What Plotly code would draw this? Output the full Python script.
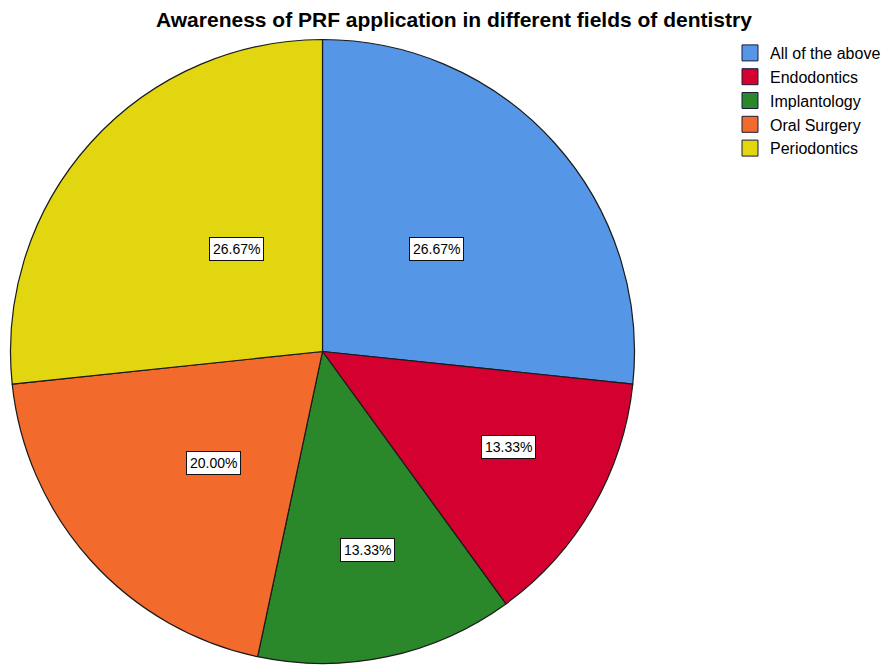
import math
import plotly.graph_objects as go

title = "Awareness of PRF application in different fields of dentistry"
categories = ["All of the above", "Endodontics", "Implantology", "Oral Surgery", "Periodontics"]
counts = [4, 2, 2, 3, 4]
colors = ["#5597E6", "#D4002F", "#2A882A", "#F26B2C", "#E2D611"]

W, H = 891, 668
cx_px, cy_px, r_px = 322.5, 351.5, 312.0
FONT = "Arial, Liberation Sans, sans-serif"

fig = go.Figure(go.Pie(
    labels=categories, values=counts, sort=False, direction="clockwise", rotation=0,
    marker=dict(colors=colors, line=dict(color="#1a1a1a", width=1.2)),
    textinfo="none", hoverinfo="label+percent", showlegend=False,
    domain=dict(x=[(cx_px - r_px) / W, (cx_px + r_px) / W],
                y=[1 - (cy_px + r_px) / H, 1 - (cy_px - r_px) / H]),
))

# legend entries (larger square swatches like the original)
for name, col in zip(categories, colors):
    fig.add_trace(go.Scatter(x=[None], y=[None], mode="markers", name=name,
                             marker=dict(symbol="square", size=16, color=col,
                                         line=dict(color="#1a1a3a", width=1))))

total = sum(counts)
cum = 0
for v in counts:
    ang = 360.0 * v / total
    mid = math.radians(cum + ang / 2)
    f = 0.89 - 0.00417 * ang
    x = cx_px + math.sin(mid) * f * r_px
    y = cy_px - math.cos(mid) * f * r_px
    fig.add_annotation(x=x / W, y=1 - y / H, xref="paper", yref="paper",
                       text=f"{100 * v / total:.2f}%", showarrow=False,
                       font=dict(family=FONT, size=14, color="black"),
                       bgcolor="white", bordercolor="#111111", borderwidth=1, borderpad=3)
    cum += ang

fig.add_annotation(x=454 / W, y=1 - 19 / H, xref="paper", yref="paper", text=f"<b>{title}</b>",
                   showarrow=False, yanchor="middle",
                   font=dict(family=FONT, size=21, color="black"))

fig.update_layout(
    width=W, height=H, margin=dict(l=0, r=0, t=0, b=0),
    paper_bgcolor="white", plot_bgcolor="white",
    xaxis=dict(visible=False), yaxis=dict(visible=False),
    legend=dict(x=730 / W, y=1 - 36 / H, xanchor="left", yanchor="top",
                font=dict(family=FONT, size=16, color="black"), itemsizing="trace",
                traceorder="normal", bgcolor="rgba(0,0,0,0)"),
)
fig.write_html("out.html", config={"displayModeBar": False},
               post_script="document.body.style.margin='0';")
